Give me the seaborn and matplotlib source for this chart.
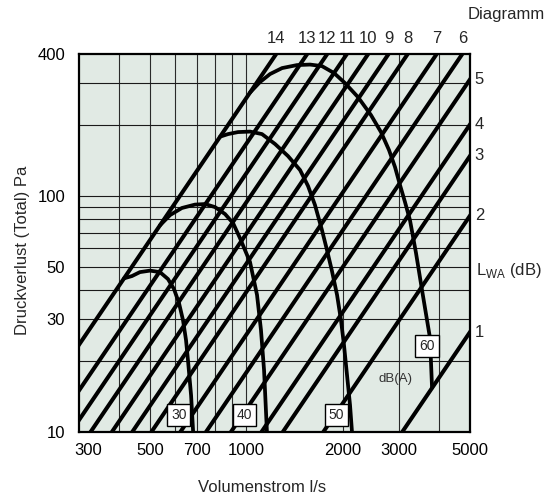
import numpy as np
import matplotlib
matplotlib.use("Agg")
import matplotlib.pyplot as plt
import matplotlib.transforms as mtransforms
import seaborn as sns

# Diagram lines (pressure ~ flow^2): flow in l/s at 10 Pa for each diagram number
diagram_ids = [14, 13, 12, 11, 10, 9, 8, 7, 6, 5, 4, 3, 2, 1]
flow_at_10pa = [196, 245, 283, 326, 380, 440, 505, 622, 748, 895, 1115, 1300, 1740, 3070]

# Sound power curves dB(A)
curve_30_flow = [415, 439, 465, 500, 537, 569, 594, 616, 634, 648, 657, 672, 682]
curve_30_pa = [44.8, 45.8, 47.6, 48.3, 47.6, 44.5, 40.4, 35.2, 29.8, 24.5, 20.2, 14.3, 10]
curve_40_flow = [537, 578, 629, 691, 743, 798, 858, 909, 955, 1027, 1080, 1111, 1136, 1160]
curve_40_pa = [75.1, 83.1, 89.0, 92.0, 92.5, 89.8, 83.9, 76.8, 66.4, 52.5, 38.1, 27.1, 18.3, 10]
curve_50_flow = [828, 877, 942, 1027, 1119, 1230, 1350, 1472, 1559, 1639, 1723, 1787,
                 1852, 1921, 1976, 2019, 2064, 2109, 2139]
curve_50_pa = [178.5, 183.1, 186.7, 187.6, 183.1, 166.1, 147.7, 128.9, 110.3, 91.6, 71.8,
               59.0, 48.1, 38.1, 29.8, 23.4, 17.4, 13.0, 10]
curve_60_flow = [1027, 1103, 1186, 1293, 1440, 1582, 1723, 1880, 2034, 2233, 2452, 2635,
                 2792, 2915, 3022, 3132, 3246, 3390, 3540, 3670, 3750, 3805]
curve_60_pa = [274.6, 304.1, 328.9, 348.6, 359.0, 360.8, 355.5, 332.1, 301.2, 262.7, 220.4,
               186.7, 156.6, 132.7, 111.3, 94.3, 79.1, 57.4, 40.0, 29.8, 25.0, 15.4]

curve_labels = ["30", "40", "50", "60"]
label_flow = [615, 985, 1913, 3671]
label_pa = [11.8, 11.8, 11.8, 23.1]

x_ticks = [300, 500, 700, 1000, 2000, 3000, 5000]
y_ticks = [10, 30, 50, 100, 400]
x_grid = [400, 500, 600, 700, 800, 900, 1000, 2000, 3000, 4000]
y_grid = [20, 30, 40, 50, 60, 70, 80, 90, 100, 200, 300]

sns.set_theme(style="white")
plt.rcParams["font.family"] = ["Liberation Sans", "DejaVu Sans"]
plt.rcParams["mathtext.fontset"] = "custom"
plt.rcParams["mathtext.rm"] = "Liberation Sans"

fig = plt.figure(figsize=(5.48, 4.99), dpi=100)
ax = fig.add_axes([79 / 548, 1 - 432 / 499, 391 / 548, 378 / 499])
ax.set_facecolor("#e1eae4")
ax.set_xscale("log")
ax.set_yscale("log")
ax.set_xlim(300, 5000)
ax.set_ylim(10, 400)

for g in x_grid:
    ax.axvline(g, color="#2a2a2a", lw=0.8, zorder=1)
for g in y_grid:
    ax.axhline(g, color="#1a1a1a", lw=0.8, zorder=1)

# diagonal diagram lines
for q10 in flow_at_10pa:
    q = np.array([q10 * np.sqrt(0.5), q10 * np.sqrt(60.0)])
    sns.lineplot(x=q, y=10 * (q / q10) ** 2, color="black", lw=2.9,
                 sort=False, estimator=None, ax=ax, zorder=3)

# dB(A) curves
for qs, ps in [(curve_30_flow, curve_30_pa), (curve_40_flow, curve_40_pa),
               (curve_50_flow, curve_50_pa), (curve_60_flow, curve_60_pa)]:
    sns.lineplot(x=qs, y=ps, color="black", lw=2.7, sort=False,
                 estimator=None, ax=ax, zorder=4)
for ln in ax.lines:
    ln.set_solid_joinstyle("round")

for lab, q, p in zip(curve_labels, label_flow, label_pa):
    ax.text(q, p, lab, fontsize=10, ha="center", va="center", zorder=6,
            bbox=dict(boxstyle="square,pad=0.28", fc="white", ec="black", lw=1.0))
ax.text(2932, 16.7, "dB(A)", fontsize=9.5, color="#333333", ha="center",
        va="center", zorder=5)

# diagram numbers at top / right
top_tr = mtransforms.blended_transform_factory(ax.transData, ax.transAxes)
right_tr = mtransforms.blended_transform_factory(ax.transAxes, ax.transData)
for d, q10 in zip(diagram_ids, flow_at_10pa):
    p_right = 10 * (5000 / q10) ** 2
    if p_right > 400:
        ax.text(q10 * np.sqrt(40.0), 1.04, str(d), transform=top_tr,
                ha="center", va="center", fontsize=12, clip_on=False)
    else:
        ax.text(1.012, p_right, str(d), transform=right_tr,
                ha="left", va="center", fontsize=12, clip_on=False)

ax.set_xticks(x_ticks)
ax.set_xticklabels([str(t) for t in x_ticks])
ax.set_yticks(y_ticks)
ax.set_yticklabels([str(t) for t in y_ticks])
ax.minorticks_off()
ax.tick_params(axis="both", length=0, labelsize=12, colors="black")
ax.tick_params(axis="x", pad=8)
ax.tick_params(axis="y", pad=10)
# shift the first x label off the corner
first = ax.get_xticklabels()[0]
first.set_transform(first.get_transform() +
                    mtransforms.ScaledTranslation(9 / 100, 0, fig.dpi_scale_trans))

for s in ax.spines.values():
    s.set_color("black")
    s.set_linewidth(1.6)
    s.set_zorder(7)

fig.text(23 / 548, 1 - 250 / 499, "Druckverlust (Total) Pa", rotation=90,
         ha="center", va="center", fontsize=12)
fig.text(262 / 548, 1 - 488 / 499, "Volumenstrom l/s", ha="center",
         va="center", fontsize=12)
fig.text(545 / 548, 1 - 15 / 499, "Diagramm", ha="right", va="center",
         fontsize=12)
fig.text(476 / 548, 1 - 270 / 499, r"L$_{\mathrm{WA}}$ (dB)", ha="left",
         va="center", fontsize=12)

fig.savefig("out.png", dpi=100)
